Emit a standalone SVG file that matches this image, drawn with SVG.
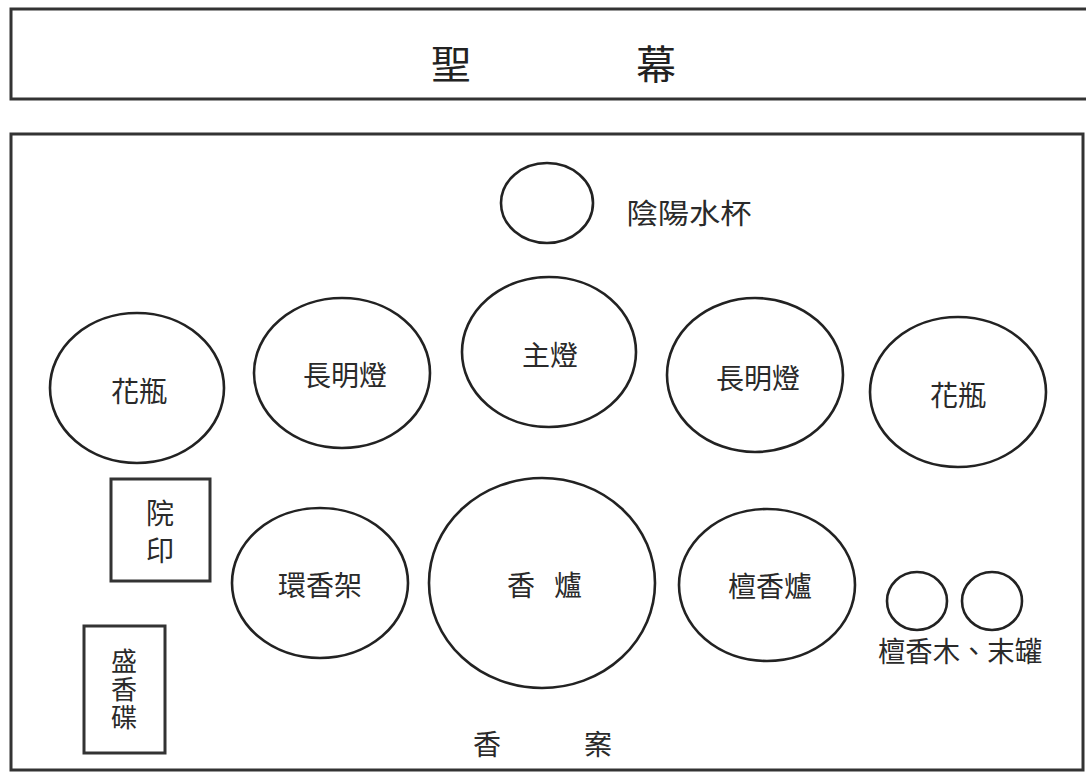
<svg xmlns="http://www.w3.org/2000/svg" width="1086" height="773" viewBox="0 0 1086 773">
<style>
.s{fill:#fff;stroke:#222;stroke-width:2.6}
.b{fill:none;stroke:#333;stroke-width:3}
.t{font-family:"Noto Sans CJK TC","Noto Sans CJK SC",sans-serif;font-size:28px;fill:#2a2a2a;text-anchor:middle}
.h{font-size:40px;fill:#222}
.v{font-size:26px;writing-mode:vertical-rl;letter-spacing:2px}
</style>
<rect width="1086" height="773" fill="#fff"/>
<g id="curtain">
<rect class="b" x="11" y="9" width="1085" height="90"/>
<text class="t h" x="451" y="79">聖</text>
<text class="t h" x="656" y="79">幕</text>
</g>
<g id="table">
<rect class="b" x="11" y="134" width="1072" height="636"/>
<text class="t" x="487" y="755">香</text>
<text class="t" x="598" y="755">案</text>
</g>
<g id="cup">
<ellipse class="s" cx="547" cy="203" rx="46" ry="40"/>
<text class="t" x="689" y="224" textLength="125" lengthAdjust="spacingAndGlyphs">陰陽水杯</text>
</g>
<g id="vase-left">
<ellipse class="s" cx="137" cy="388" rx="87" ry="75"/>
<text class="t" x="139" y="402">花瓶</text>
</g>
<g id="lamp-left">
<ellipse class="s" cx="342" cy="373" rx="88" ry="75"/>
<text class="t" x="345" y="386">長明燈</text>
</g>
<g id="main-lamp">
<ellipse class="s" cx="549" cy="352" rx="87" ry="75"/>
<text class="t" x="550" y="366">主燈</text>
</g>
<g id="lamp-right">
<ellipse class="s" cx="755" cy="375" rx="88" ry="77"/>
<text class="t" x="758" y="389">長明燈</text>
</g>
<g id="vase-right">
<ellipse class="s" cx="958" cy="392" rx="88" ry="75"/>
<text class="t" x="958" y="406">花瓶</text>
</g>
<g id="seal">
<rect class="b" x="111" y="479" width="99" height="102"/>
<text class="t" x="160" y="524">院</text>
<text class="t" x="160" y="561">印</text>
</g>
<g id="dish">
<rect class="b" x="84" y="626" width="81" height="127"/>
<text class="t v" x="124" y="690">盛香碟</text>
</g>
<g id="incense-rack">
<ellipse class="s" cx="320" cy="583" rx="88" ry="75"/>
<text class="t" x="320" y="596">環香架</text>
</g>
<g id="censer">
<ellipse class="s" cx="542" cy="583" rx="113" ry="105"/>
<text class="t" x="521" y="596">香</text>
<text class="t" x="568" y="596">爐</text>
</g>
<g id="sandal-censer">
<ellipse class="s" cx="767" cy="585" rx="88" ry="76"/>
<text class="t" x="770" y="597">檀香爐</text>
</g>
<g id="jars">
<ellipse class="s" cx="917" cy="601" rx="30" ry="29"/>
<ellipse class="s" cx="992" cy="601" rx="30" ry="29"/>
<text class="t" x="960" y="662" textLength="164" lengthAdjust="spacingAndGlyphs">檀香木、末罐</text>
</g>
<g id="connectors"/>
</svg>
